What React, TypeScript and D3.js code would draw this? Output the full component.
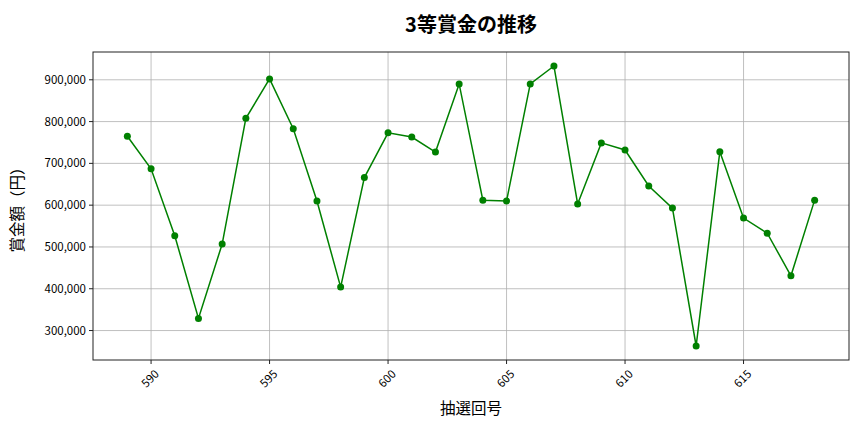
import * as d3 from "d3";

// 抽選回号 and 3等賞金 (yen)
const draws = [
  589, 590, 591, 592, 593, 594, 595, 596, 597, 598, 599, 600, 601, 602, 603,
  604, 605, 606, 607, 608, 609, 610, 611, 612, 613, 614, 615, 616, 617, 618,
];
const prizes = [
  765000, 687000, 527000, 329000, 507000, 808000, 902000, 783000, 610000,
  404000, 666000, 773000, 763000, 727000, 890000, 612000, 610000, 890000,
  933000, 603000, 749000, 732000, 646000, 593000, 263000, 728000, 569000,
  533000, 431000, 612000,
];
const xTicks = [590, 595, 600, 605, 610, 615];
const yTicks = [300000, 400000, 500000, 600000, 700000, 800000, 900000];

const W = 864;
const H = 432;
const margin = { top: 52, right: 15, bottom: 72, left: 93 };
const font = "'Noto Sans CJK JP', 'DejaVu Sans', sans-serif";

export default function App() {
  const innerW = W - margin.left - margin.right;
  const innerH = H - margin.top - margin.bottom;

  const xPad = (d3.max(draws)! - d3.min(draws)!) * 0.05;
  const x = d3
    .scaleLinear()
    .domain([d3.min(draws)! - xPad, d3.max(draws)! + xPad])
    .range([0, innerW]);
  const yPad = (d3.max(prizes)! - d3.min(prizes)!) * 0.05;
  const y = d3
    .scaleLinear()
    .domain([d3.min(prizes)! - yPad, d3.max(prizes)! + yPad])
    .range([innerH, 0]);

  const points = draws.map((d, i) => [x(d), y(prizes[i])] as [number, number]);
  const line = d3.line()(points) ?? "";
  const fmt = d3.format(",");

  return (
    <svg
      width={W}
      height={H}
      style={{ position: "absolute", left: 0, top: 0, background: "white" }}
      fontFamily={font}
    >
      <text x={margin.left + innerW / 2} y={32} textAnchor="middle" fontSize={20} fontWeight={600} fill="#000">
        3等賞金の推移
      </text>
      <g transform={`translate(${margin.left},${margin.top})`}>
        {/* grid */}
        {xTicks.map((t) => (
          <line key={"gx" + t} x1={x(t)} x2={x(t)} y1={0} y2={innerH} stroke="#b0b0b0" strokeWidth={0.8} />
        ))}
        {yTicks.map((t) => (
          <line key={"gy" + t} x1={0} x2={innerW} y1={y(t)} y2={y(t)} stroke="#b0b0b0" strokeWidth={0.8} />
        ))}
        {/* data */}
        <path d={line} fill="none" stroke="green" strokeWidth={1.5} />
        {points.map(([px, py], i) => (
          <circle key={i} cx={px} cy={py} r={3.5} fill="green" />
        ))}
        {/* frame */}
        <rect x={0} y={0} width={innerW} height={innerH} fill="none" stroke="#222" strokeWidth={1} />
        {/* y axis */}
        {yTicks.map((t) => (
          <g key={"ty" + t} transform={`translate(0,${y(t)})`}>
            <line x1={-4} x2={0} stroke="#222" />
            <text x={-7} dy="0.35em" textAnchor="end" fontSize={11.5} fill="#000">
              {fmt(t)}
            </text>
          </g>
        ))}
        {/* x axis */}
        {xTicks.map((t) => (
          <g key={"tx" + t} transform={`translate(${x(t)},${innerH})`}>
            <line y1={0} y2={4} stroke="#222" />
            <text
              transform="translate(3,9) rotate(-45)"
              textAnchor="end"
              dy="0.7em"
              fontSize={11.5}
              fill="#000"
            >
              {t}
            </text>
          </g>
        ))}
      </g>
      <text x={margin.left + innerW / 2} y={414} textAnchor="middle" fontSize={15.5} fill="#000">
        抽選回号
      </text>
      <text
        transform={`translate(23,${margin.top + innerH / 2}) rotate(-90)`}
        textAnchor="middle"
        fontSize={15.5}
        fill="#000"
      >
        賞金額（円）
      </text>
    </svg>
  );
}
